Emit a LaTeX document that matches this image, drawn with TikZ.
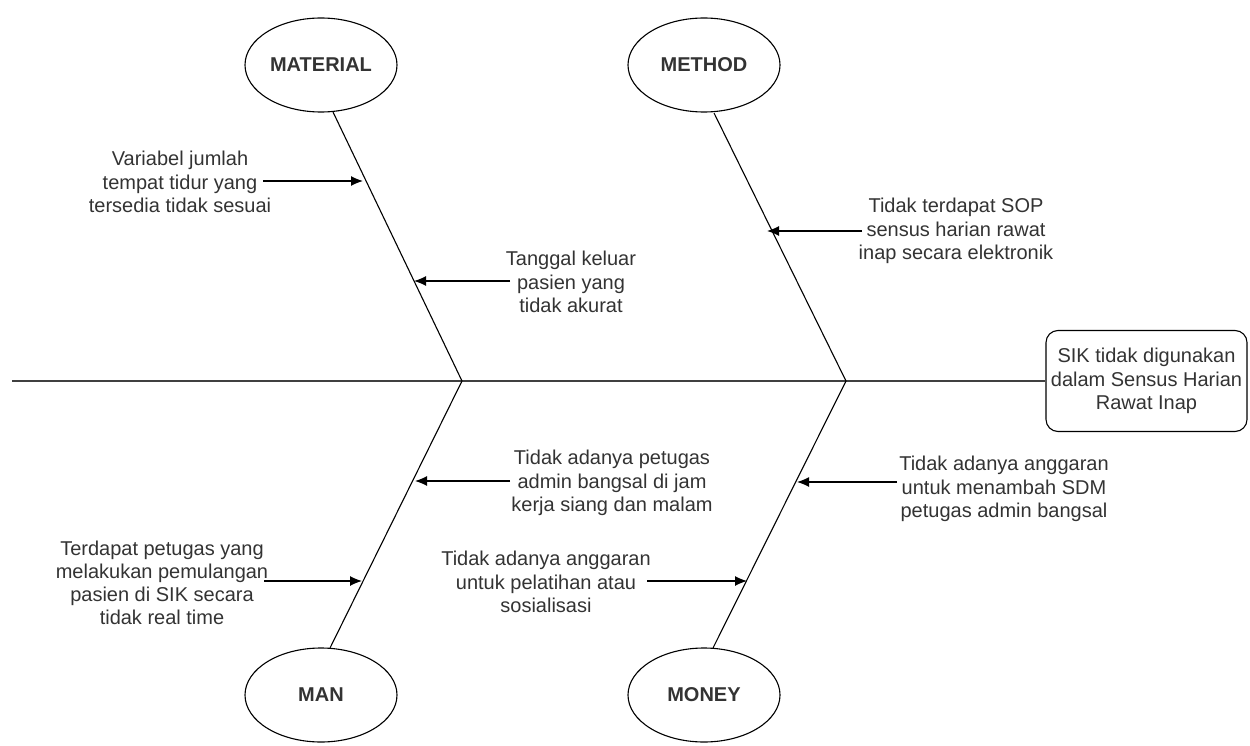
\documentclass[tikz,border=0pt]{standalone}
\usepackage{fontspec}
\setmainfont{Liberation Sans}
\usetikzlibrary{arrows.meta,shapes.geometric}
\definecolor{txt}{HTML}{333333}
\begin{document}
\begin{tikzpicture}[x=1pt,y=-1pt,
  cat/.style={ellipse,draw=black,line width=1.1pt,minimum width=152pt,minimum height=94pt,inner sep=0pt,font=\fontsize{20}{23.2}\selectfont\bfseries,text=txt},
  cause/.style={align=center,inner sep=0pt,font=\fontsize{20}{23.2}\selectfont,text=txt},
  bone/.style={line width=1.1pt,draw=black},
  spine/.style={line width=1.6pt,draw=black!75},
  arr/.style={line width=1.2pt,draw=black,-{Latex[length=12pt,width=10pt]}},
  effect/.style={draw=black,line width=1.1pt,rounded corners=12pt,minimum width=201pt,minimum height=101pt,align=center,inner sep=0pt,font=\fontsize{20}{23.2}\selectfont,text=txt}]
\useasboundingbox (0,0) rectangle (1250,746);

% categories
\node[cat] (material) at (321,65) {MATERIAL};
\node[cat] (method) at (704,65) {METHOD};
\node[cat] (man) at (321,695) {MAN};
\node[cat] (money) at (704,695) {MONEY};

% effect
\node[effect] (effect) at (1146.5,381) {SIK tidak digunakan\\dalam Sensus Harian\\Rawat Inap};

% joints
\coordinate (start) at (12,381);
\coordinate (j1) at (462,381);
\coordinate (j2) at (846,381);
\coordinate (matb) at (333,112);
\coordinate (metb) at (714,113);
\coordinate (mant) at (330,648);
\coordinate (mont) at (713,648);

\draw[spine] (start) -- (j1) -- (j2) -- (effect.west);
\draw[bone] (matb) -- (j1) -- (mant);
\draw[bone] (metb) -- (j2) -- (mont);

% causes
\node[cause] (c1) at (180,182) {Variabel jumlah\\tempat tidur yang\\tersedia tidak sesuai};
\node[cause] (c2) at (571,282) {Tanggal keluar\\pasien yang\\tidak akurat};
\node[cause] (c3) at (956,231) {Tidak terdapat SOP\\sensus harian rawat\\inap secara elektronik};
\node[cause] (c4) at (612,483) {Tidak adanya petugas\\admin bangsal di jam\\kerja siang dan malam};
\node[cause] (c5) at (162,583) {Terdapat petugas yang\\melakukan pemulangan\\pasien di SIK secara\\tidak real time};
\node[cause] (c6) at (1004,489) {Tidak adanya anggaran\\untuk menambah SDM\\petugas admin bangsal};
\node[cause] (c7) at (546,582) {Tidak adanya anggaran\\untuk pelatihan atau\\sosialisasi};

% arrow ends
\coordinate (t1) at (263,181); \coordinate (h1) at (363,181);
\coordinate (t2) at (510,281); \coordinate (h2) at (414,281);
\coordinate (t3) at (862,231); \coordinate (h3) at (767,231);
\coordinate (t4) at (510,481); \coordinate (h4) at (415,481);
\coordinate (t5) at (264,581); \coordinate (h5) at (362,581);
\coordinate (t6) at (897,482); \coordinate (h6) at (797,482);
\coordinate (t7) at (647,581); \coordinate (h7) at (747,581);

\draw[arr] (t1) -- (h1);
\draw[arr] (t2) -- (h2);
\draw[arr] (t3) -- (h3);
\draw[arr] (t4) -- (h4);
\draw[arr] (t5) -- (h5);
\draw[arr] (t6) -- (h6);
\draw[arr] (t7) -- (h7);
\end{tikzpicture}
\end{document}
